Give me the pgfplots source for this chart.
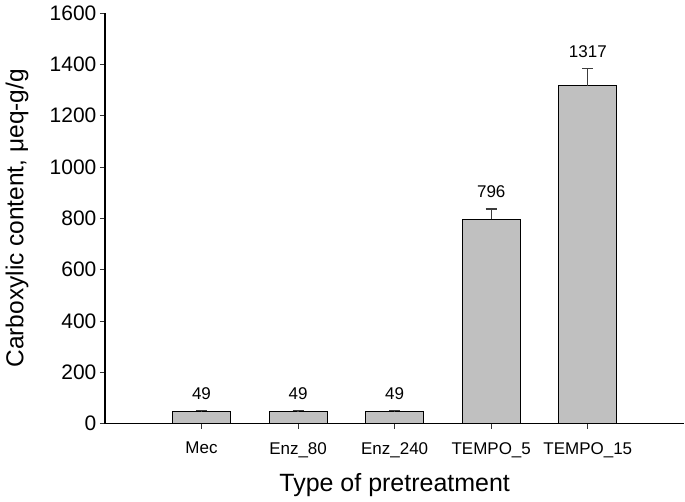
\documentclass[border=0pt]{standalone}
\usepackage{fontspec}
\setmainfont{Liberation Sans}
\usepackage{pgfplots}
\usepackage{pgfplotstable}
\pgfplotsset{compat=1.18}
\definecolor{barfill}{RGB}{192,192,192}
\definecolor{errc}{RGB}{60,60,60}
\pgfplotstableread{
x y err
0 49 2
1 49 2
2 49 2
3 796 40
4 1317 66
}\bardata
\pgfplotstableread{
x y lab
0 51 49
1 51 49
2 51 49
3 836 796
4 1383 1317
}\labdata
\begin{document}
\begin{tikzpicture}
\begin{axis}[
  scale only axis, width=580pt, height=411pt,
  xmin=-1, xmax=5, ymin=0, ymax=1600,
  axis x line*=bottom, axis y line*=left,
  axis line style={-, line width=1.2pt, black},
  xtick={0,1,2,3,4},
  xticklabels={Mec, Enz\_80, Enz\_240, TEMPO\_5, TEMPO\_15},
  ytick distance=200,
  tick align=outside, major tick length=5pt,
  tick style={line width=0.9pt, black!80},
  /pgf/number format/assume math mode=true,
  /pgf/number format/1000 sep={},
  yticklabel style={font=\fontsize{21}{25}\selectfont},
  xticklabel style={font=\fontsize{17}{20}\selectfont, yshift=-10pt},
  xlabel={Type of pretreatment},
  ylabel={Carboxylic content, μeq-g/g},
  xlabel style={font=\fontsize{25}{30}\selectfont, at={(axis description cs:0.5,-0.1655)}, anchor=base},
  ylabel style={font=\fontsize{24.5}{29}\selectfont, at={(axis description cs:-0.1517,0.5)}, anchor=center},
  clip=false,
]
\addplot[ybar, bar width=58pt, fill=barfill, draw=black, line width=1pt,
  error bars/.cd, y dir=plus, y explicit,
  error bar style={errc, line width=1.2pt},
  error mark options={errc, line width=1.2pt, mark size=5.5pt, rotate=90}]
  table[x=x, y=y, y error=err] {\bardata};
\addplot[draw=none, mark=none, nodes near coords, point meta=explicit symbolic,
  nodes near coords style={font=\fontsize{17}{20}\selectfont, anchor=base, yshift=11.5pt, inner sep=0pt, black}]
  table[x=x, y=y, meta=lab] {\labdata};
\end{axis}
\path ([xshift=-105pt,yshift=-78pt]current axis.south west) rectangle ([yshift=13pt]current axis.north east);
\end{tikzpicture}
\end{document}
